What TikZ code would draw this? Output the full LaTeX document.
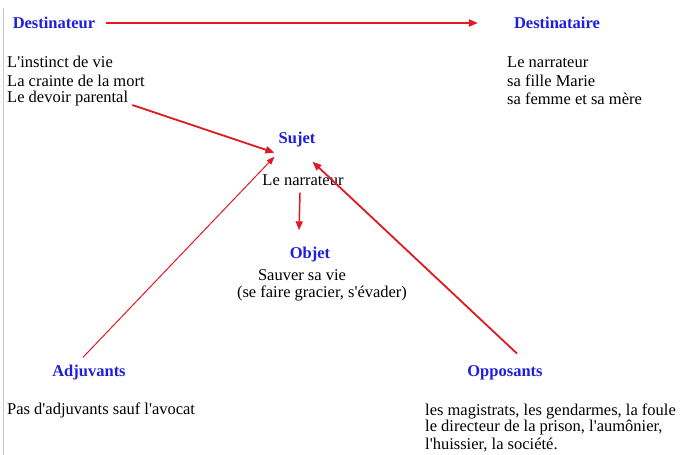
\documentclass[tikz,border=0pt]{standalone}
\usepackage{fontspec}
\setmainfont{Liberation Serif}[Ligatures=TeXOff]
\usetikzlibrary{arrows.meta}
\definecolor{actant}{RGB}{30,30,220}
\definecolor{fleche}{RGB}{225,25,35}

\begin{document}
\begin{tikzpicture}[x=1pt, y=-1pt,
    role/.style={inner sep=0pt, text=actant, font=\fontsize{16.5}{18}\selectfont\bfseries},
    ligne/.style={inner sep=0pt, anchor=west, font=\fontsize{16.5}{18}\selectfont},
    centre/.style={inner sep=0pt, font=\fontsize{16.5}{18}\selectfont},
    fl/.style={draw=fleche, line width=1.8pt, -{Triangle[length=9pt,width=7pt]}}]
    \clip (0,0) rectangle (683,455);
    \fill[white] (0,0) rectangle (683,455);
    \draw[gray!45, line width=1pt] (3,8) -- (3,455);
    % Destinateur
    \node[role] (dest) at (54,23) {Destinateur};
    \node[ligne] (dest1) at (7,62) {L'instinct de vie};
    \node[ligne] (dest2) at (7,80.5) {La crainte de la mort};
    \node[ligne] (dest3) at (7,99) {Le devoir parental};
    % Destinataire
    \node[role] (destre) at (557,23) {Destinataire};
    \node[ligne] (destre1) at (507,62) {Le narrateur};
    \node[ligne] (destre2) at (507,80.5) {sa fille Marie};
    \node[ligne] (destre3) at (507,99) {sa femme et sa mère};
    % Sujet et objet
    \node[role] (sujet) at (297,140) {Sujet};
    \node[centre] (narr) at (303,180) {Le narrateur};
    \node[role] (objet) at (310,255) {Objet};
    \node[centre] (objet1) at (302,275) {Sauver sa vie};
    \node[centre] (objet2) at (322,293) {(se faire gracier, s'évader)};
    % Adjuvants et opposants
    \node[role] (adj) at (89,373) {Adjuvants};
    \node[ligne] (adj1) at (7,410) {Pas d'adjuvants sauf l'avocat};
    \node[role] (opp) at (505,373) {Opposants};
    \node[ligne] (opp1) at (425,411) {les magistrats, les gendarmes, la foule};
    \node[ligne] (opp2) at (425,428) {le directeur de la prison, l'aumônier,};
    \node[ligne] (opp3) at (425,445) {l'huissier, la société.};
    % Flèches
    \draw[fl, shorten <=11pt, shorten >=36pt] (dest.east) -- (destre.west);
    \draw[fl] ([shift={(4,6)}]dest3.east) -- ([shift={(-4,5)}]sujet.south west);
    \draw[fl, line width=1pt, -{Triangle[length=8pt,width=6pt]}] ([shift={(-6,-8)}]adj.north) -- ([shift={(-4,9)}]sujet.south west);
    \draw[fl] ([shift={(12,-12)}]opp.north) -- ([shift={(-3,14)}]sujet.south east);
    \draw[fl, line width=1.5pt] ([shift={(-3,7)}]narr.south) -- ([shift={(-11,-17)}]objet.north);
\end{tikzpicture}
\end{document}
